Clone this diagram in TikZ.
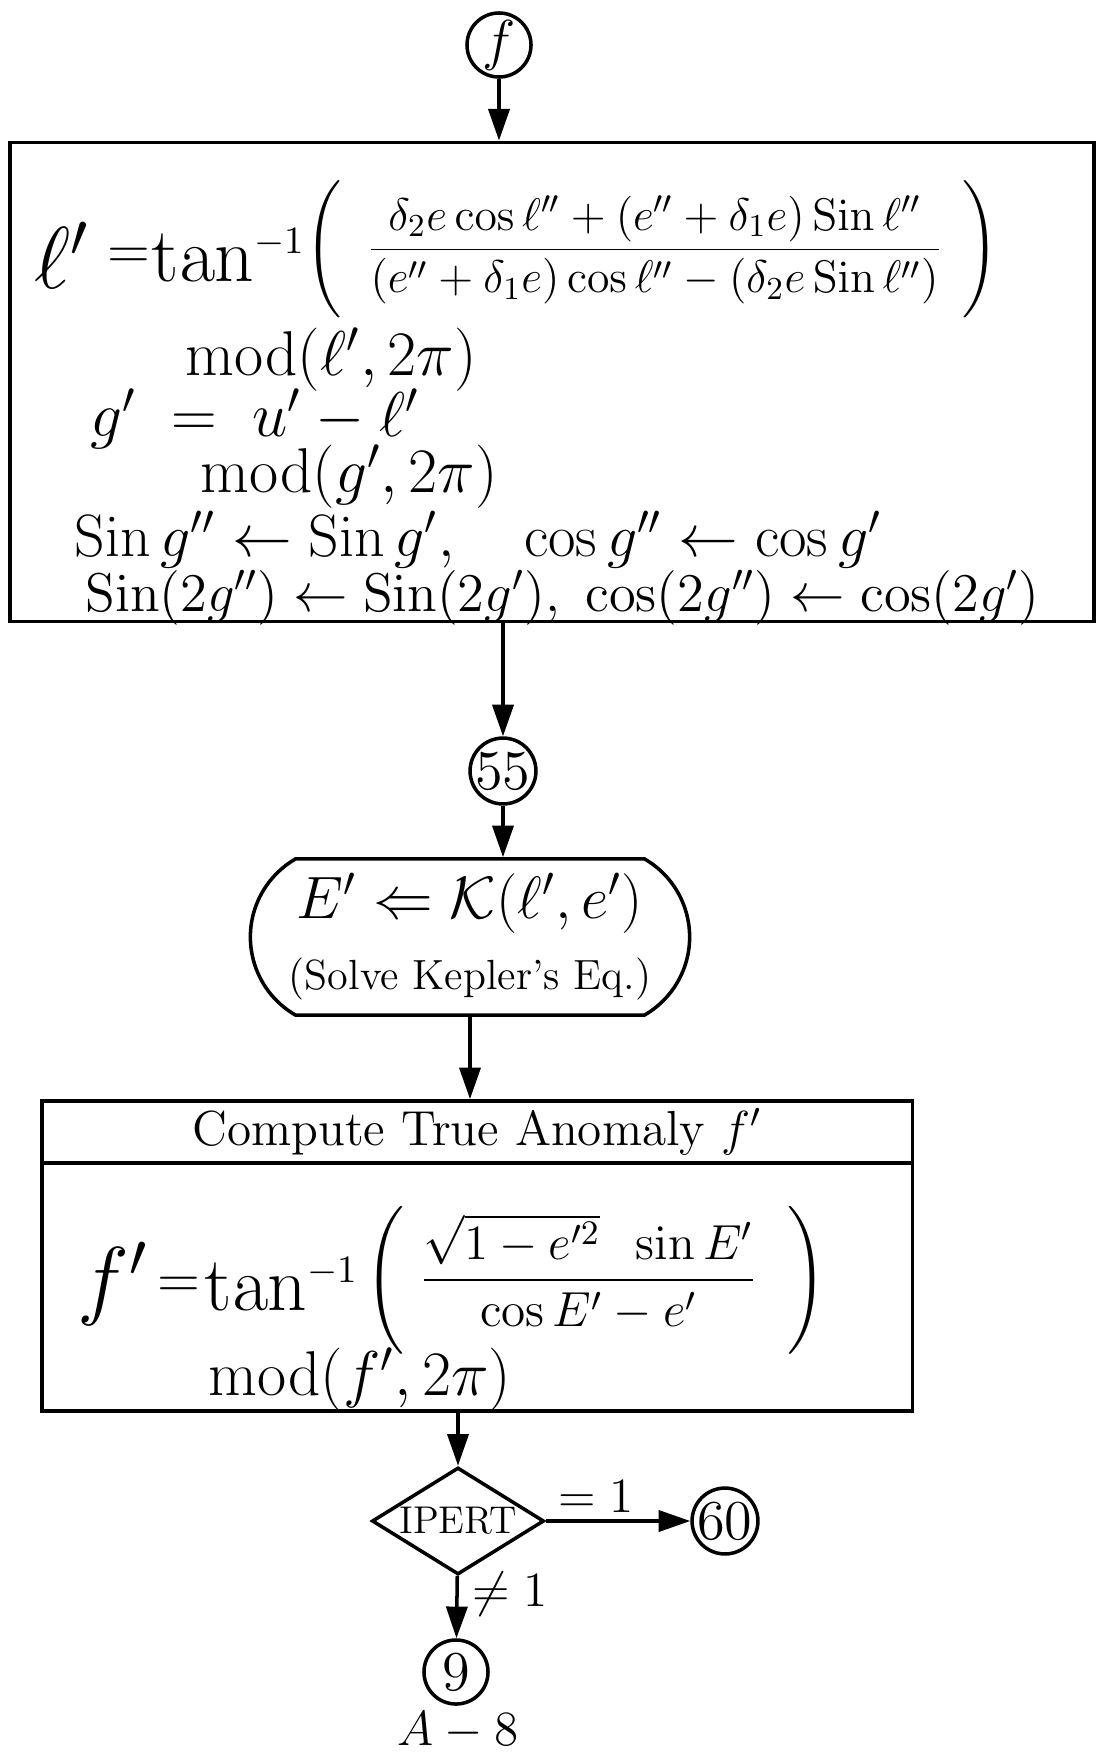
\RequirePackage{fix-cm}
\documentclass[tikz,border=0pt]{standalone}
\usepackage{amsmath,amssymb}
\usetikzlibrary{arrows.meta,positioning,shapes.geometric,shapes.misc}

\begin{document}
\begin{tikzpicture}[x=0.01cm,y=-0.01cm,line width=1pt,
  every node/.style={inner sep=0pt},
  conn/.style={-{Triangle[length=9pt,width=6pt]}},
  ring/.style={draw,circle,minimum size=0.64cm,font=\fontsize{16}{18}\selectfont},
  bigsym/.style={anchor=west,font=\fontsize{22}{26}\selectfont},
  eqsign/.style={font=\fontsize{16}{18}\selectfont},
  eqn/.style={anchor=west,font=\fontsize{17}{20}\selectfont},
  fracpart/.style={font=\fontsize{13}{16}\selectfont},
  lbl/.style={font=\fontsize{14}{16}\selectfont}]
\useasboundingbox (0,0) rectangle (1097,1754);

\node[ring] (cf) at (499,45) {$f$};
\node[draw,minimum width=10.83cm,minimum height=4.79cm] (box1) at (552,382) {};
\node[bigsym,font=\fontsize{25}{28}\selectfont] (ell1) at (33,255) {$\ell'$};
\node[eqsign] (eq1) at (129,258) {$=$};
\node[bigsym] (tan1) at (150,255) {$\tan^{\scriptscriptstyle -1}$};
\node[fracpart] (frac1) at (652,252) {$\left(\rule[-0.62cm]{0pt}{1.3cm}\hspace{0.25cm}\dfrac{\delta_2 e\cos\ell''+(e''+\delta_1 e)\operatorname{Sin}\ell''}{(e''+\delta_1 e)\cos\ell''-(\delta_2 e\operatorname{Sin}\ell'')}\hspace{0.2cm}\right)$};
\node[eqn,font=\fontsize{18}{21}\selectfont] (mod1) at (184,360) {$\operatorname{mod}(\ell', 2\pi)$};
\node[eqn,font=\fontsize{18}{21}\selectfont] (gdef) at (89,419) {$g' \;=\; u' - \ell'$};
\node[eqn,font=\fontsize{18}{21}\selectfont] (mod2) at (199,477) {$\operatorname{mod}(g', 2\pi)$};
\node[eqn] (sing) at (73,540) {$\operatorname{Sin} g'' \leftarrow \operatorname{Sin} g',\quad \cos g'' \leftarrow \cos g'$};
\node[eqn,font=\fontsize{15.5}{18}\selectfont] (sin2g) at (84,598) {$\operatorname{Sin}(2g'') \leftarrow \operatorname{Sin}(2g'),\ \cos(2g'') \leftarrow \cos(2g')$};

\node[ring] (c55) at (503,771) {$55$};
\node[draw,rounded rectangle,rounded rectangle arc length=120,minimum width=4.39cm,minimum height=1.56cm,align=center] (kep) at (470,937)
  {{\fontsize{17}{20}\selectfont $E'\Leftarrow\mathcal{K}(\ell', e')$}\\[6pt]{\fontsize{12}{14}\selectfont (Solve Kepler's Eq.)}};

\node[draw,minimum width=8.70cm,minimum height=3.10cm] (box3) at (477,1256) {};
\node[draw,anchor=north,minimum width=8.70cm,minimum height=0.62cm,lbl] (hdr) at (box3.north) {Compute True Anomaly $f'$};
\node[bigsym,font=\fontsize{25}{28}\selectfont] (f1) at (76,1284) {$f'$};
\node[eqsign] (eq3) at (179,1287) {$=$};
\node[bigsym] (tan3) at (203,1284) {$\tan^{\scriptscriptstyle -1}$};
\node[font=\fontsize{14}{17}\selectfont] (frac3) at (596,1280) {$\left(\rule[-0.55cm]{0pt}{1.17cm}\hspace{0.15cm}\dfrac{\sqrt{1-e'^2}\;\; \sin E'}{\cos E' - e'}\hspace{0.3cm}\right)$};
\node[eqn,font=\fontsize{18}{21}\selectfont] (mod3) at (207,1380) {$\operatorname{mod}(f', 2\pi)$};

\node[draw,diamond,aspect=1.6,minimum width=1.72cm,minimum height=1.07cm,font=\fontsize{11}{13}\selectfont] (ipert) at (458,1521) {IPERT};
\node[ring] (c60) at (725,1521) {$60$};
\node[ring] (c9) at (456,1672) {$9$};
\node[lbl] (page) at (458,1731) {$A-8$};

\draw[conn] (cf) -- (cf |- box1.north);
\draw[conn] (c55 |- box1.south) -- (c55);
\draw[conn] (c55) -- (c55 |- kep.north);
\draw[conn] (kep.south) -- (kep.south |- box3.north);
\draw[conn] (ipert |- box3.south) -- (ipert);
\draw[conn] (ipert) -- node[lbl,pos=0.35,above=2pt] {$=1$} (c60);
\draw[conn] (ipert) -- node[lbl,pos=0.3,right=4pt] {$\neq 1$} (c9);
\end{tikzpicture}
\end{document}
